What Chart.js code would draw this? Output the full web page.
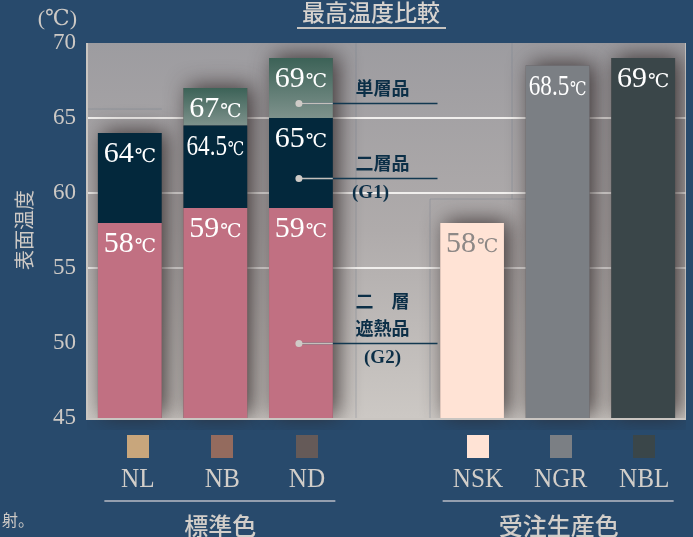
<!DOCTYPE html>
<html><head><meta charset="utf-8">
<script src="https://cdn.jsdelivr.net/npm/chart.js@4/dist/chart.umd.min.js"></script>
<style>html,body{margin:0;padding:0;background:#284a6c;overflow:hidden}</style>
</head><body>
<canvas id="c" width="693" height="537" style="display:block;width:693px;height:537px"></canvas>
<script>
// ---------- data ----------
const categories = ['NL', 'NB', 'ND', '', 'NSK', 'NGR', 'NBL'];
const groupNames = ['標準色', '受注生産色'];
const groupMembers = [[0, 1, 2], [4, 5, 6]];
const axisMin = 45, axisMax = 70, axisStep = 5;
const gridValues = [55, 60, 65];
const g2Top = [58, 59, 59, null, null, null, null];          // 二層遮熱品 (G2)
const g1Top = [64, 64.5, 65, null, null, null, null];        // 二層品 (G1)
const singleTop = [null, 67, 69, null, null, null, null];    // 単層品
const orderTop = [null, null, null, null, 58, 68.5, 69];     // 受注生産色
const calloutValues = [66, 61, 50];
const calloutTexts = [[['単層品'], []], [['二層品'], ['(G1)']], [['二　層', '遮熱品'], ['(G2)']]];
const calloutCategory = 2;

// ---------- styles ----------
const swatchColors = ['#c8a67c', '#946b5e', '#655a58', null, '#ffe3d5', '#7b7f84', '#3a4649'];
const labelShift = [8, 7, 6, 0, 6, 3, 1];
const orderColors = [null, null, null, null, '#ffe3d5', '#7b7f84', '#3a4649'];
const orderLabelColors = [null, null, null, null, '#8d8886', '#ffffff', '#ffffff'];
const SERIF = '"Liberation Serif","DejaVu Serif",serif';
const CJK = '"Noto Sans CJK JP","Noto Sans CJK SC",sans-serif';
const LIGHT = '#cdc9c5';

const floating = (tops, bases) => tops.map((v, i) => v == null ? null : [bases ? bases[i] : axisMin, v]);

function greenGrad(ctx) {
  const chart = ctx.chart, i = ctx.dataIndex;
  if (!chart.chartArea || singleTop[i] == null) return '#4d6f65';
  const ys = chart.scales.y;
  const t = ys.getPixelForValue(singleTop[i]), b = ys.getPixelForValue(g1Top[i]);
  const g = chart.ctx.createLinearGradient(0, t, 0, b);
  g.addColorStop(0, '#3c6257'); g.addColorStop(1, '#7e928c');
  return g;
}

function drawTemp(ctx, x, baseline, num, color, maxW) {
  const big = '30px ' + SERIF, small = '19px ' + SERIF;
  ctx.save();
  ctx.font = big; const w1 = ctx.measureText(String(num)).width;
  ctx.font = small; const w2 = ctx.measureText('℃').width;
  const tot = w1 + w2 + 1;
  const sx = tot > maxW ? maxW / tot : 1;
  ctx.translate(x, baseline); ctx.scale(sx, 1);
  ctx.fillStyle = color;
  ctx.textBaseline = 'alphabetic'; ctx.textAlign = 'left';
  ctx.font = big; ctx.fillText(String(num), -tot / 2, 0);
  ctx.font = small; ctx.fillText('℃', -tot / 2 + w1 + 1, 0);
  ctx.restore();
}

const bgPlugin = {
  id: 'bg',
  beforeDraw(chart) {
    const { ctx, chartArea: a } = chart;
    ctx.save();
    ctx.fillStyle = '#284a6c'; ctx.fillRect(0, 0, chart.width, chart.height);
    const g = ctx.createLinearGradient(0, a.top, 0, a.bottom);
    g.addColorStop(0, '#9d9ca0'); g.addColorStop(0.5, '#afabab'); g.addColorStop(1, '#ccc8c4');
    ctx.fillStyle = g; ctx.fillRect(a.left, a.top, a.right - a.left, a.bottom - a.top);
    // faint decorative frame lines
    ctx.strokeStyle = 'rgba(110,120,140,0.35)'; ctx.lineWidth = 1;
    const xs = chart.scales.x, ys = chart.scales.y;
    const gx = xs.getPixelForValue(3);
    ctx.beginPath();
    ctx.moveTo(gx - 30.5, a.top); ctx.lineTo(gx - 30.5, a.bottom);
    ctx.moveTo(gx + 43.5, ys.getPixelForValue(59.6)); ctx.lineTo(gx + 43.5, a.bottom);
    ctx.moveTo(gx + 43.5, ys.getPixelForValue(59.6)); ctx.lineTo(gx + 140, ys.getPixelForValue(59.6));
    ctx.moveTo(gx + 125.5, a.top); ctx.lineTo(gx + 125.5, ys.getPixelForValue(59.6));
    ctx.moveTo(a.left, ys.getPixelForValue(65.6)); ctx.lineTo(xs.getPixelForValue(0) + 32, ys.getPixelForValue(65.6));
    ctx.stroke();
    ctx.restore();
  },
  beforeDatasetsDraw(chart) {
    const { ctx, chartArea: a, scales: { y } } = chart;
    ctx.save();
    ctx.beginPath(); ctx.rect(a.left, a.top, a.right - a.left, a.bottom - a.top + 12); ctx.clip();
    categories.forEach((c, i) => {
      const tops = [g2Top[i], g1Top[i], singleTop[i], orderTop[i]].filter(v => v != null);
      if (!tops.length) return;
      let el = null;
      chart.data.datasets.forEach((d, di) => { const e = chart.getDatasetMeta(di).data[i]; if (d.data[i] != null && e && isFinite(e.width)) el = e; });
      if (!el) return;
      const top = y.getPixelForValue(Math.max(...tops)), bot = y.getPixelForValue(axisMin);
      ctx.shadowColor = 'rgba(45,35,35,0.85)'; ctx.shadowBlur = 22; ctx.shadowOffsetX = 5; ctx.shadowOffsetY = -2;
      ctx.fillStyle = '#5a5050';
      ctx.fillRect(el.x - el.width / 2, top, el.width, bot - top);
    });
    ctx.restore();
  },
  afterDatasetsDraw(chart) {
    const { ctx, chartArea: a, scales: { x, y } } = chart;
    ctx.save();
    // value labels
    chart.data.datasets.forEach((d, di) => {
      const meta = chart.getDatasetMeta(di);
      d.data.forEach((v, i) => {
        if (v == null) return;
        const el = meta.data[i];
        const top = y.getPixelForValue(v[1]);
        const col = d.labelColors ? d.labelColors[i] : '#ffffff';
        drawTemp(ctx, el.x, top + 29, v[1], col, el.width - 6);
      });
    });
    // callouts
    const cx = x.getPixelForValue(calloutCategory);
    const meta = chart.getDatasetMeta(0); const bw = meta.data[calloutCategory].width;
    const gx = x.getPixelForValue(3);
    calloutValues.forEach((v, k) => {
      const py = Math.round(y.getPixelForValue(v)) + 0.5;
      ctx.lineWidth = 1.5;
      ctx.strokeStyle = '#123850';
      ctx.beginPath(); ctx.moveTo(cx, py); ctx.lineTo(gx + 51, py); ctx.stroke();
      ctx.strokeStyle = '#c4c0bc';
      ctx.beginPath(); ctx.moveTo(cx - 2, py); ctx.lineTo(cx + bw / 2, py); ctx.stroke();
      ctx.fillStyle = '#cfcbc7';
      ctx.beginPath(); ctx.arc(cx - 2, py, 3.5, 0, Math.PI * 2); ctx.fill();
      const [above, below] = calloutTexts[k];
      ctx.fillStyle = '#0c2f47'; ctx.textAlign = 'center'; ctx.textBaseline = 'middle';
      ctx.font = 'bold 18px ' + CJK;
      above.forEach((t, j) => ctx.fillText(t, gx - 4, py - 15 - (above.length - 1 - j) * 27));
      ctx.font = 'bold 19px ' + SERIF;
      below.forEach((t, j) => ctx.fillText(t, gx - 4 + (k === 1 ? -12 : 0), py + 15 + j * 27));
    });
    // plot frame
    ctx.strokeStyle = '#c9c5c1'; ctx.lineWidth = 2;
    ctx.beginPath(); ctx.moveTo(a.left, a.top); ctx.lineTo(a.left, a.bottom + 1); ctx.lineTo(a.right, a.bottom + 1); ctx.stroke();
    ctx.strokeStyle = 'rgba(210,206,202,0.7)'; ctx.lineWidth = 1;
    ctx.beginPath(); ctx.moveTo(a.right - 0.5, a.top); ctx.lineTo(a.right - 0.5, a.bottom); ctx.stroke();
    ctx.restore();
  },
  afterDraw(chart) {
    const { ctx, chartArea: a, scales: { x } } = chart;
    ctx.save();
    // swatches + labels
    categories.forEach((c, i) => {
      if (!c) return;
      const px = x.getPixelForValue(i) + labelShift[i];
      ctx.fillStyle = swatchColors[i];
      ctx.fillRect(Math.round(px - 11), a.bottom + 17, 22, 23);
      ctx.save();
      ctx.translate(px, a.bottom + 69); ctx.scale(0.9, 1);
      ctx.fillStyle = '#d2cec9';
      ctx.font = '28px ' + SERIF; ctx.textAlign = 'center'; ctx.textBaseline = 'alphabetic';
      ctx.fillText(c, 0, 0);
      ctx.restore();
    });
    // group lines + names
    groupMembers.forEach((m, gi) => {
      const mid = x.getPixelForValue(m[1]) + labelShift[m[1]] - 3;
      ctx.strokeStyle = '#b9bcc6'; ctx.lineWidth = 1.5;
      ctx.beginPath(); ctx.moveTo(mid - 115, a.bottom + 83); ctx.lineTo(mid + 116, a.bottom + 83); ctx.stroke();
      ctx.fillStyle = '#d2cec9'; ctx.font = '500 24px ' + CJK; ctx.textAlign = 'center'; ctx.textBaseline = 'middle';
      ctx.fillText(groupNames[gi], mid + 1, a.bottom + 108);
    });
    // title
    ctx.fillStyle = '#d6d2ce'; ctx.font = '500 23px ' + CJK; ctx.textAlign = 'center'; ctx.textBaseline = 'middle';
    ctx.fillText('最高温度比較', 371, 12);
    ctx.strokeStyle = '#c8c4c0'; ctx.lineWidth = 2;
    ctx.beginPath(); ctx.moveTo(297, 28); ctx.lineTo(446, 28); ctx.stroke();
    // unit
    ctx.fillStyle = LIGHT; ctx.font = '22px ' + SERIF; ctx.textAlign = 'right'; ctx.textBaseline = 'middle';
    ctx.fillText('(℃)', 77, 19);
    // rotated axis title
    ctx.save();
    ctx.translate(24, 230); ctx.rotate(-Math.PI / 2);
    ctx.font = '20px ' + CJK; ctx.textAlign = 'center'; ctx.textBaseline = 'middle';
    ctx.fillText('表面温度', 0, 0);
    ctx.restore();
    // cut-off note
    ctx.textAlign = 'left'; ctx.font = '16px ' + CJK;
    ctx.fillText('射。', 2, 520);
    ctx.restore();
  }
};

new Chart(document.getElementById('c'), {
  type: 'bar',
  data: {
    labels: categories,
    datasets: [
      { label: '二層遮熱品 (G2)', data: floating(g2Top), backgroundColor: '#c17082' },
      { label: '二層品 (G1)', data: floating(g1Top, g2Top), backgroundColor: '#03283c' },
      { label: '単層品', data: floating(singleTop, g1Top), backgroundColor: greenGrad },
      { label: '受注生産色', data: floating(orderTop), backgroundColor: orderColors, labelColors: orderLabelColors }
    ]
  },
  options: {
    responsive: false, animation: false, devicePixelRatio: 1,
    layout: { padding: { top: 43, right: 7, left: 0, bottom: 0 } },
    datasets: { bar: { barPercentage: 0.745, categoryPercentage: 1, borderWidth: 0 } },
    plugins: { legend: { display: false }, tooltip: { enabled: false } },
    scales: {
      x: {
        stacked: true,
        grid: { display: false }, border: { display: false },
        ticks: { display: false },
        afterFit(s) { s.height = 119; }
      },
      y: {
        stacked: false, min: axisMin, max: axisMax,
        ticks: { stepSize: axisStep, color: LIGHT, font: { family: SERIF, size: 23 }, padding: 11 },
        grid: {
          drawTicks: false, lineWidth: 2,
          color: c => (c.tick && gridValues.includes(c.tick.value)) ? '#f1efed' : 'rgba(0,0,0,0)'
        },
        border: { display: false },
        afterFit(s) { s.width = 87; }
      }
    }
  },
  plugins: [bgPlugin]
});
</script>
</body></html>
